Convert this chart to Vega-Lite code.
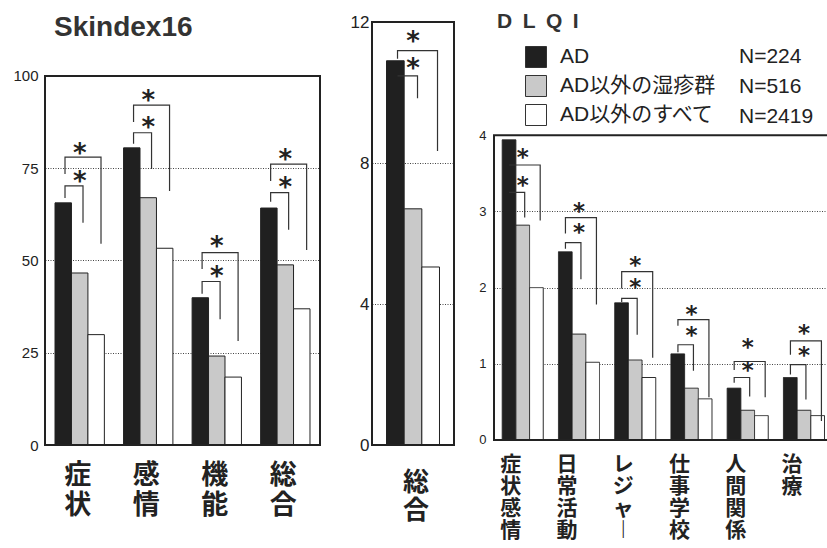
{
  "$schema": "https://vega.github.io/schema/vega-lite/v6.json",
  "padding": {"left": 12, "top": 11, "right": 0, "bottom": 0},
  "background": "white",
  "spacing": 23,
  "config": {
    "font": "Liberation Sans",
    "view": {"stroke": null},
    "axis": {"domain": false, "ticks": false, "labelColor": "#222", "gridColor": "#444", "gridDash": [1, 1.5], "gridWidth": 1, "title": null}
  },
  "datasets": {
    "bars": [
      {"p": "S", "cat": "症状", "g": "AD", "n": "N=224", "v": 65.6},
      {"p": "S", "cat": "症状", "g": "AD以外の湿疹群", "n": "N=516", "v": 46.6},
      {"p": "S", "cat": "症状", "g": "AD以外のすべて", "n": "N=2419", "v": 29.9},
      {"p": "S", "cat": "感情", "g": "AD", "n": "N=224", "v": 80.5},
      {"p": "S", "cat": "感情", "g": "AD以外の湿疹群", "n": "N=516", "v": 67.0},
      {"p": "S", "cat": "感情", "g": "AD以外のすべて", "n": "N=2419", "v": 53.3},
      {"p": "S", "cat": "機能", "g": "AD", "n": "N=224", "v": 39.9},
      {"p": "S", "cat": "機能", "g": "AD以外の湿疹群", "n": "N=516", "v": 24.1},
      {"p": "S", "cat": "機能", "g": "AD以外のすべて", "n": "N=2419", "v": 18.4},
      {"p": "S", "cat": "総合", "g": "AD", "n": "N=224", "v": 64.2},
      {"p": "S", "cat": "総合", "g": "AD以外の湿疹群", "n": "N=516", "v": 48.8},
      {"p": "S", "cat": "総合", "g": "AD以外のすべて", "n": "N=2419", "v": 36.9},
      {"p": "T", "cat": "総合", "g": "AD", "n": "N=224", "v": 10.9},
      {"p": "T", "cat": "総合", "g": "AD以外の湿疹群", "n": "N=516", "v": 6.7},
      {"p": "T", "cat": "総合", "g": "AD以外のすべて", "n": "N=2419", "v": 5.05},
      {"p": "D", "cat": "症状感情", "g": "AD", "n": "N=224", "v": 3.94},
      {"p": "D", "cat": "症状感情", "g": "AD以外の湿疹群", "n": "N=516", "v": 2.82},
      {"p": "D", "cat": "症状感情", "g": "AD以外のすべて", "n": "N=2419", "v": 2.0},
      {"p": "D", "cat": "日常活動", "g": "AD", "n": "N=224", "v": 2.47},
      {"p": "D", "cat": "日常活動", "g": "AD以外の湿疹群", "n": "N=516", "v": 1.39},
      {"p": "D", "cat": "日常活動", "g": "AD以外のすべて", "n": "N=2419", "v": 1.02},
      {"p": "D", "cat": "レジャー", "g": "AD", "n": "N=224", "v": 1.8},
      {"p": "D", "cat": "レジャー", "g": "AD以外の湿疹群", "n": "N=516", "v": 1.05},
      {"p": "D", "cat": "レジャー", "g": "AD以外のすべて", "n": "N=2419", "v": 0.82},
      {"p": "D", "cat": "仕事学校", "g": "AD", "n": "N=224", "v": 1.13},
      {"p": "D", "cat": "仕事学校", "g": "AD以外の湿疹群", "n": "N=516", "v": 0.68},
      {"p": "D", "cat": "仕事学校", "g": "AD以外のすべて", "n": "N=2419", "v": 0.54},
      {"p": "D", "cat": "人間関係", "g": "AD", "n": "N=224", "v": 0.68},
      {"p": "D", "cat": "人間関係", "g": "AD以外の湿疹群", "n": "N=516", "v": 0.39},
      {"p": "D", "cat": "人間関係", "g": "AD以外のすべて", "n": "N=2419", "v": 0.32},
      {"p": "D", "cat": "治療", "g": "AD", "n": "N=224", "v": 0.82},
      {"p": "D", "cat": "治療", "g": "AD以外の湿疹群", "n": "N=516", "v": 0.39},
      {"p": "D", "cat": "治療", "g": "AD以外のすべて", "n": "N=2419", "v": 0.32}
    ],
    "frames": [
      {"p": "S", "lo": 0, "hi": 100},
      {"p": "T", "lo": 0, "hi": 12},
      {"p": "D", "lo": 0, "hi": 4}
    ],
    "brackets": [
      {"p": "S", "cat": "症状", "k": "i", "s": 1, "pos": "AD", "v": 66.9},
      {"p": "S", "cat": "症状", "k": "i", "s": 2, "pos": "AD", "v": 70.2},
      {"p": "S", "cat": "症状", "k": "i", "s": 3, "pos": "AD以外の湿疹群", "v": 70.2},
      {"p": "S", "cat": "症状", "k": "i", "s": 4, "pos": "AD以外の湿疹群", "v": 60.2},
      {"p": "S", "cat": "症状", "k": "o", "s": 1, "pos": "AD", "v": 73.4},
      {"p": "S", "cat": "症状", "k": "o", "s": 2, "pos": "AD", "v": 78.0},
      {"p": "S", "cat": "症状", "k": "o", "s": 3, "pos": "AD以外のすべて", "v": 78.0},
      {"p": "S", "cat": "症状", "k": "o", "s": 4, "pos": "AD以外のすべて", "v": 54.5},
      {"p": "S", "cat": "感情", "k": "i", "s": 1, "pos": "AD", "v": 81.6},
      {"p": "S", "cat": "感情", "k": "i", "s": 2, "pos": "AD", "v": 84.6},
      {"p": "S", "cat": "感情", "k": "i", "s": 3, "pos": "AD以外の湿疹群", "v": 84.6},
      {"p": "S", "cat": "感情", "k": "i", "s": 4, "pos": "AD以外の湿疹群", "v": 74.8},
      {"p": "S", "cat": "感情", "k": "o", "s": 1, "pos": "AD", "v": 87.5},
      {"p": "S", "cat": "感情", "k": "o", "s": 2, "pos": "AD", "v": 92.1},
      {"p": "S", "cat": "感情", "k": "o", "s": 3, "pos": "AD以外のすべて", "v": 92.1},
      {"p": "S", "cat": "感情", "k": "o", "s": 4, "pos": "AD以外のすべて", "v": 68.8},
      {"p": "S", "cat": "機能", "k": "i", "s": 1, "pos": "AD", "v": 41.0},
      {"p": "S", "cat": "機能", "k": "i", "s": 2, "pos": "AD", "v": 44.3},
      {"p": "S", "cat": "機能", "k": "i", "s": 3, "pos": "AD以外の湿疹群", "v": 44.3},
      {"p": "S", "cat": "機能", "k": "i", "s": 4, "pos": "AD以外の湿疹群", "v": 34.1},
      {"p": "S", "cat": "機能", "k": "o", "s": 1, "pos": "AD", "v": 47.7},
      {"p": "S", "cat": "機能", "k": "o", "s": 2, "pos": "AD", "v": 52.1},
      {"p": "S", "cat": "機能", "k": "o", "s": 3, "pos": "AD以外のすべて", "v": 52.1},
      {"p": "S", "cat": "機能", "k": "o", "s": 4, "pos": "AD以外のすべて", "v": 28.2},
      {"p": "S", "cat": "総合", "k": "i", "s": 1, "pos": "AD", "v": 65.9},
      {"p": "S", "cat": "総合", "k": "i", "s": 2, "pos": "AD", "v": 68.4},
      {"p": "S", "cat": "総合", "k": "i", "s": 3, "pos": "AD以外の湿疹群", "v": 68.4},
      {"p": "S", "cat": "総合", "k": "i", "s": 4, "pos": "AD以外の湿疹群", "v": 58.3},
      {"p": "S", "cat": "総合", "k": "o", "s": 1, "pos": "AD", "v": 71.5},
      {"p": "S", "cat": "総合", "k": "o", "s": 2, "pos": "AD", "v": 76.1},
      {"p": "S", "cat": "総合", "k": "o", "s": 3, "pos": "AD以外のすべて", "v": 76.1},
      {"p": "S", "cat": "総合", "k": "o", "s": 4, "pos": "AD以外のすべて", "v": 52.8},
      {"p": "T", "cat": "総合", "k": "i", "s": 1, "pos": "AD", "v": 10.47},
      {"p": "T", "cat": "総合", "k": "i", "s": 2, "pos": "AD", "v": 10.47},
      {"p": "T", "cat": "総合", "k": "i", "s": 3, "pos": "AD以外の湿疹群", "v": 10.47},
      {"p": "T", "cat": "総合", "k": "i", "s": 4, "pos": "AD以外の湿疹群", "v": 9.84},
      {"p": "T", "cat": "総合", "k": "o", "s": 1, "pos": "AD", "v": 10.96},
      {"p": "T", "cat": "総合", "k": "o", "s": 2, "pos": "AD", "v": 11.19},
      {"p": "T", "cat": "総合", "k": "o", "s": 3, "pos": "AD以外のすべて", "v": 11.19},
      {"p": "T", "cat": "総合", "k": "o", "s": 4, "pos": "AD以外のすべて", "v": 8.34},
      {"p": "D", "cat": "症状感情", "k": "i", "s": 1, "pos": "AD", "v": 3.25},
      {"p": "D", "cat": "症状感情", "k": "i", "s": 2, "pos": "AD", "v": 3.25},
      {"p": "D", "cat": "症状感情", "k": "i", "s": 3, "pos": "AD以外の湿疹群", "v": 3.25},
      {"p": "D", "cat": "症状感情", "k": "i", "s": 4, "pos": "AD以外の湿疹群", "v": 2.92},
      {"p": "D", "cat": "症状感情", "k": "o", "s": 1, "pos": "AD", "v": 3.61},
      {"p": "D", "cat": "症状感情", "k": "o", "s": 2, "pos": "AD", "v": 3.61},
      {"p": "D", "cat": "症状感情", "k": "o", "s": 3, "pos": "AD以外のすべて", "v": 3.61},
      {"p": "D", "cat": "症状感情", "k": "o", "s": 4, "pos": "AD以外のすべて", "v": 2.88},
      {"p": "D", "cat": "日常活動", "k": "i", "s": 1, "pos": "AD", "v": 2.51},
      {"p": "D", "cat": "日常活動", "k": "i", "s": 2, "pos": "AD", "v": 2.59},
      {"p": "D", "cat": "日常活動", "k": "i", "s": 3, "pos": "AD以外の湿疹群", "v": 2.59},
      {"p": "D", "cat": "日常活動", "k": "i", "s": 4, "pos": "AD以外の湿疹群", "v": 2.11},
      {"p": "D", "cat": "日常活動", "k": "o", "s": 1, "pos": "AD", "v": 2.71},
      {"p": "D", "cat": "日常活動", "k": "o", "s": 2, "pos": "AD", "v": 2.92},
      {"p": "D", "cat": "日常活動", "k": "o", "s": 3, "pos": "AD以外のすべて", "v": 2.92},
      {"p": "D", "cat": "日常活動", "k": "o", "s": 4, "pos": "AD以外のすべて", "v": 1.78},
      {"p": "D", "cat": "レジャー", "k": "i", "s": 1, "pos": "AD", "v": 1.81},
      {"p": "D", "cat": "レジャー", "k": "i", "s": 2, "pos": "AD", "v": 1.86},
      {"p": "D", "cat": "レジャー", "k": "i", "s": 3, "pos": "AD以外の湿疹群", "v": 1.86},
      {"p": "D", "cat": "レジャー", "k": "i", "s": 4, "pos": "AD以外の湿疹群", "v": 1.38},
      {"p": "D", "cat": "レジャー", "k": "o", "s": 1, "pos": "AD", "v": 1.99},
      {"p": "D", "cat": "レジャー", "k": "o", "s": 2, "pos": "AD", "v": 2.21},
      {"p": "D", "cat": "レジャー", "k": "o", "s": 3, "pos": "AD以外のすべて", "v": 2.21},
      {"p": "D", "cat": "レジャー", "k": "o", "s": 4, "pos": "AD以外のすべて", "v": 1.08},
      {"p": "D", "cat": "仕事学校", "k": "i", "s": 1, "pos": "AD", "v": 1.15},
      {"p": "D", "cat": "仕事学校", "k": "i", "s": 2, "pos": "AD", "v": 1.25},
      {"p": "D", "cat": "仕事学校", "k": "i", "s": 3, "pos": "AD以外の湿疹群", "v": 1.25},
      {"p": "D", "cat": "仕事学校", "k": "i", "s": 4, "pos": "AD以外の湿疹群", "v": 0.91},
      {"p": "D", "cat": "仕事学校", "k": "o", "s": 1, "pos": "AD", "v": 1.5},
      {"p": "D", "cat": "仕事学校", "k": "o", "s": 2, "pos": "AD", "v": 1.58},
      {"p": "D", "cat": "仕事学校", "k": "o", "s": 3, "pos": "AD以外のすべて", "v": 1.58},
      {"p": "D", "cat": "仕事学校", "k": "o", "s": 4, "pos": "AD以外のすべて", "v": 0.56},
      {"p": "D", "cat": "人間関係", "k": "i", "s": 1, "pos": "AD", "v": 0.75},
      {"p": "D", "cat": "人間関係", "k": "i", "s": 2, "pos": "AD", "v": 0.82},
      {"p": "D", "cat": "人間関係", "k": "i", "s": 3, "pos": "AD以外の湿疹群", "v": 0.82},
      {"p": "D", "cat": "人間関係", "k": "i", "s": 4, "pos": "AD以外の湿疹群", "v": 0.57},
      {"p": "D", "cat": "人間関係", "k": "o", "s": 1, "pos": "AD", "v": 0.92},
      {"p": "D", "cat": "人間関係", "k": "o", "s": 2, "pos": "AD", "v": 1.03},
      {"p": "D", "cat": "人間関係", "k": "o", "s": 3, "pos": "AD以外のすべて", "v": 1.03},
      {"p": "D", "cat": "人間関係", "k": "o", "s": 4, "pos": "AD以外のすべて", "v": 0.56},
      {"p": "D", "cat": "治療", "k": "i", "s": 1, "pos": "AD", "v": 0.86},
      {"p": "D", "cat": "治療", "k": "i", "s": 2, "pos": "AD", "v": 0.99},
      {"p": "D", "cat": "治療", "k": "i", "s": 3, "pos": "AD以外の湿疹群", "v": 0.99},
      {"p": "D", "cat": "治療", "k": "i", "s": 4, "pos": "AD以外の湿疹群", "v": 0.53},
      {"p": "D", "cat": "治療", "k": "o", "s": 1, "pos": "AD", "v": 1.12},
      {"p": "D", "cat": "治療", "k": "o", "s": 2, "pos": "AD", "v": 1.3},
      {"p": "D", "cat": "治療", "k": "o", "s": 3, "pos": "AD以外のすべて", "v": 1.3},
      {"p": "D", "cat": "治療", "k": "o", "s": 4, "pos": "AD以外のすべて", "v": 0.25}
    ],
    "stars": [
      {"p": "S", "cat": "症状", "v": 72.1},
      {"p": "S", "cat": "症状", "v": 79.7},
      {"p": "S", "cat": "感情", "v": 86.7},
      {"p": "S", "cat": "感情", "v": 94.0},
      {"p": "S", "cat": "機能", "v": 46.3},
      {"p": "S", "cat": "機能", "v": 54.5},
      {"p": "S", "cat": "総合", "v": 70.5},
      {"p": "S", "cat": "総合", "v": 78.0},
      {"p": "T", "cat": "総合", "v": 10.74},
      {"p": "T", "cat": "総合", "v": 11.51},
      {"p": "D", "cat": "症状感情", "v": 3.38},
      {"p": "D", "cat": "症状感情", "v": 3.74},
      {"p": "D", "cat": "日常活動", "v": 2.75},
      {"p": "D", "cat": "日常活動", "v": 3.03},
      {"p": "D", "cat": "レジャー", "v": 2.04},
      {"p": "D", "cat": "レジャー", "v": 2.32},
      {"p": "D", "cat": "仕事学校", "v": 1.40},
      {"p": "D", "cat": "仕事学校", "v": 1.68},
      {"p": "D", "cat": "人間関係", "v": 0.94},
      {"p": "D", "cat": "人間関係", "v": 1.25},
      {"p": "D", "cat": "治療", "v": 1.14},
      {"p": "D", "cat": "治療", "v": 1.43}
    ]
  },
  "resolve": {"scale": {"fill": "independent", "strokeDash": "independent"}},
  "hconcat": [
    {
      "width": 275,
      "height": 423,
      "title": {"text": "Skindex16", "fontSize": 28, "fontWeight": "bold", "anchor": "start", "frame": "group", "dx": 9, "offset": -42, "baseline": "alphabetic", "color": "#333"},
      "layer": [
        {
          "data": {"name": "bars"},
          "transform": [{"filter": "datum.p == 'S'"}],
          "mark": {"type": "bar", "stroke": "#222", "strokeWidth": 1},
          "encoding": {
            "x": {"field": "cat", "type": "nominal", "scale": {"domain": ["症状", "感情", "機能", "総合"], "paddingInner": 0.28, "paddingOuter": 0.146},
              "axis": {"labelAngle": 0, "labelExpr": "split(datum.label, '')", "labelFont": "Noto Sans CJK JP", "labelFontWeight": "bold", "labelFontSize": 27, "labelLineHeight": 30, "labelPadding": 17, "labelBaseline": "top", "labelOffset": -2, "labelOverlap": false}},
            "xOffset": {"field": "g", "type": "nominal", "scale": {"domain": ["AD", "AD以外の湿疹群", "AD以外のすべて"], "paddingInner": 0, "paddingOuter": 0}},
            "y": {"field": "v", "type": "quantitative", "scale": {"domain": [0, 114.6], "nice": false},
              "axis": {"values": [0, 25, 50, 75, 100], "format": "d", "labelFontSize": 15, "labelPadding": 7, "minExtent": 32, "maxExtent": 32, "grid": true}},
            "fill": {"field": "g", "type": "nominal", "scale": {"domain": ["AD", "AD以外の湿疹群", "AD以外のすべて"], "range": ["#202020", "#c9c9c9", "#ffffff"]}, "legend": null}
          }
        },
        {
          "data": {"name": "frames"},
          "transform": [{"filter": "datum.p == 'S'"}],
          "mark": {"type": "rect", "filled": false, "stroke": "#222", "strokeWidth": 2},
          "encoding": {
            "y": {"field": "lo", "type": "quantitative", "scale": {"domain": [0, 114.6], "nice": false}},
            "y2": {"field": "hi"}
          }
        },
        {
          "data": {"name": "brackets"},
          "transform": [{"filter": "datum.p == 'S'"}],
          "mark": {"type": "line", "color": "#333", "strokeWidth": 1.2},
          "encoding": {
            "x": {"field": "cat", "type": "nominal", "scale": {"domain": ["症状", "感情", "機能", "総合"], "paddingInner": 0.28, "paddingOuter": 0.146}},
            "xOffset": {"field": "pos", "type": "nominal", "scale": {"type": "point", "domain": ["AD", "AD以外の湿疹群", "AD以外のすべて"], "range": [10, 46], "padding": 0}},
            "y": {"field": "v", "type": "quantitative", "scale": {"domain": [0, 114.6], "nice": false}},
            "detail": [{"field": "cat"}, {"field": "k"}],
            "order": {"field": "s", "type": "quantitative"}
          }
        },
        {
          "data": {"name": "stars"},
          "transform": [{"filter": "datum.p == 'S'"}],
          "mark": {"type": "text", "text": "*", "font": "DejaVu Sans", "fontWeight": "bold", "fontSize": 26, "baseline": "alphabetic", "dy": 11, "color": "#222"},
          "encoding": {
            "x": {"field": "cat", "type": "nominal", "scale": {"domain": ["症状", "感情", "機能", "総合"], "paddingInner": 0.28, "paddingOuter": 0.146}},
            "y": {"field": "v", "type": "quantitative", "scale": {"domain": [0, 114.6], "nice": false}}
          }
        }
      ],
      "resolve": {"scale": {"xOffset": "independent"}}
    },
    {
      "width": 82,
      "height": 423,
      "layer": [
        {
          "data": {"name": "bars"},
          "transform": [{"filter": "datum.p == 'T'"}],
          "mark": {"type": "bar", "stroke": "#222", "strokeWidth": 1},
          "encoding": {
            "x": {"field": "cat", "type": "nominal", "scale": {"domain": ["総合"], "paddingInner": 0, "paddingOuter": 0.274},
              "axis": {"labelAngle": 0, "labelExpr": "split(datum.label, '')", "labelFont": "Noto Sans CJK JP", "labelFontWeight": "bold", "labelFontSize": 26, "labelLineHeight": 28, "labelPadding": 24, "labelBaseline": "top", "labelOffset": 3, "labelOverlap": false}},
            "xOffset": {"field": "g", "type": "nominal", "scale": {"domain": ["AD", "AD以外の湿疹群", "AD以外のすべて"], "paddingInner": 0, "paddingOuter": 0}},
            "y": {"field": "v", "type": "quantitative", "scale": {"domain": [0, 12], "nice": false},
              "axis": {"values": [0, 4, 8, 12], "format": "d", "labelFontSize": 17, "labelPadding": 3, "minExtent": 28, "maxExtent": 28, "grid": true}},
            "fill": {"field": "g", "type": "nominal", "scale": {"domain": ["AD", "AD以外の湿疹群", "AD以外のすべて"], "range": ["#202020", "#c9c9c9", "#ffffff"]}, "legend": null}
          }
        },
        {
          "data": {"name": "frames"},
          "transform": [{"filter": "datum.p == 'T'"}],
          "mark": {"type": "rect", "filled": false, "stroke": "#222", "strokeWidth": 2},
          "encoding": {
            "y": {"field": "lo", "type": "quantitative", "scale": {"domain": [0, 12], "nice": false}},
            "y2": {"field": "hi"}
          }
        },
        {
          "data": {"name": "brackets"},
          "transform": [{"filter": "datum.p == 'T'"}],
          "mark": {"type": "line", "color": "#333", "strokeWidth": 1.2},
          "encoding": {
            "x": {"field": "cat", "type": "nominal", "scale": {"domain": ["総合"], "paddingInner": 0, "paddingOuter": 0.274}},
            "xOffset": {"field": "pos", "type": "nominal", "scale": {"type": "point", "domain": ["AD", "AD以外の湿疹群", "AD以外のすべて"], "range": [11, 51], "padding": 0}},
            "y": {"field": "v", "type": "quantitative", "scale": {"domain": [0, 12], "nice": false}},
            "detail": [{"field": "cat"}, {"field": "k"}],
            "order": {"field": "s", "type": "quantitative"}
          }
        },
        {
          "data": {"name": "stars"},
          "transform": [{"filter": "datum.p == 'T'"}],
          "mark": {"type": "text", "text": "*", "font": "DejaVu Sans", "fontWeight": "bold", "fontSize": 26, "baseline": "alphabetic", "dy": 11, "color": "#222"},
          "encoding": {
            "x": {"field": "cat", "type": "nominal", "scale": {"domain": ["総合"], "paddingInner": 0, "paddingOuter": 0.274}},
            "y": {"field": "v", "type": "quantitative", "scale": {"domain": [0, 12], "nice": false}}
          }
        }
      ],
      "resolve": {"scale": {"xOffset": "independent"}}
    },
    {
      "width": 334,
      "height": 423,
      "title": {"text": "D\u2002L\u2002Q\u2002I", "fontSize": 21, "fontWeight": "bold", "anchor": "start", "frame": "group", "dx": 3, "offset": -27, "baseline": "alphabetic", "color": "#333"},
      "layer": [
        {
          "data": {"name": "bars"},
          "transform": [{"filter": "datum.p == 'D'"}],
          "mark": {"type": "bar", "stroke": "#222", "strokeWidth": 1},
          "encoding": {
            "x": {"field": "cat", "type": "nominal", "scale": {"domain": ["症状感情", "日常活動", "レジャー", "仕事学校", "人間関係", "治療"], "paddingInner": 0.27, "paddingOuter": 0.104, "align": 0.7},
              "axis": {"labelAngle": 0, "labelExpr": "split(replace(datum.label, 'ー', '︱'), '')", "labelFont": "Noto Sans CJK JP", "labelFontWeight": "bold", "labelFontSize": 21, "labelLineHeight": 22.3, "labelPadding": 8, "labelBaseline": "top", "labelOffset": -12, "labelOverlap": false}},
            "xOffset": {"field": "g", "type": "nominal", "scale": {"domain": ["AD", "AD以外の湿疹群", "AD以外のすべて"], "paddingInner": 0, "paddingOuter": 0}},
            "y": {"field": "v", "type": "quantitative", "scale": {"domain": [-0.066, 5.487], "nice": false, "zero": false},
              "axis": {"values": [0, 1, 2, 3, 4], "format": "d", "labelFontSize": 13, "labelPadding": 8, "minExtent": 15, "maxExtent": 15, "grid": true}},
            "fill": {"field": "g", "type": "nominal", "scale": {"domain": ["AD", "AD以外の湿疹群", "AD以外のすべて"], "range": ["#202020", "#c9c9c9", "#ffffff"]},
              "legend": {"orient": "none", "legendX": 31, "legendY": 24, "title": null, "symbolType": "square", "symbolSize": 441, "symbolStrokeColor": "#333", "symbolStrokeWidth": 1, "labelFont": "Liberation Sans, Noto Sans CJK JP", "labelFontSize": 21, "labelColor": "#222", "labelOffset": 13, "rowPadding": 3, "labelLimit": 300, "padding": 0}},
            "strokeDash": {"field": "n", "type": "nominal", "scale": {"domain": ["N=224", "N=516", "N=2419"], "range": [[1, 0], [1, 0], [1, 0]]},
              "legend": {"orient": "none", "legendX": 224, "legendY": 24, "title": null, "symbolType": "square", "symbolSize": 441, "symbolOpacity": 0, "symbolStrokeWidth": 0, "labelFont": "Liberation Sans", "labelFontSize": 21, "labelColor": "#222", "labelOffset": 0, "rowPadding": 8, "padding": 0}}
          }
        },
        {
          "data": {"name": "frames"},
          "transform": [{"filter": "datum.p == 'D'"}],
          "mark": {"type": "rect", "filled": false, "stroke": "#222", "strokeWidth": 2},
          "encoding": {
            "y": {"field": "lo", "type": "quantitative", "scale": {"domain": [-0.066, 5.487], "nice": false, "zero": false}},
            "y2": {"field": "hi"}
          }
        },
        {
          "data": {"name": "brackets"},
          "transform": [{"filter": "datum.p == 'D'"}],
          "mark": {"type": "line", "color": "#333", "strokeWidth": 1.2},
          "encoding": {
            "x": {"field": "cat", "type": "nominal", "scale": {"domain": ["症状感情", "日常活動", "レジャー", "仕事学校", "人間関係", "治療"], "paddingInner": 0.27, "paddingOuter": 0.104, "align": 0.7}},
            "xOffset": {"field": "pos", "type": "nominal", "scale": {"type": "point", "domain": ["AD", "AD以外の湿疹群", "AD以外のすべて"], "range": [7, 38], "padding": 0}},
            "y": {"field": "v", "type": "quantitative", "scale": {"domain": [-0.066, 5.487], "nice": false, "zero": false}},
            "detail": [{"field": "cat"}, {"field": "k"}],
            "order": {"field": "s", "type": "quantitative"}
          }
        },
        {
          "data": {"name": "stars"},
          "transform": [{"filter": "datum.p == 'D'"}],
          "mark": {"type": "text", "text": "*", "font": "DejaVu Sans", "fontWeight": "bold", "fontSize": 23, "baseline": "alphabetic", "dy": 10, "color": "#222"},
          "encoding": {
            "x": {"field": "cat", "type": "nominal", "scale": {"domain": ["症状感情", "日常活動", "レジャー", "仕事学校", "人間関係", "治療"], "paddingInner": 0.27, "paddingOuter": 0.104, "align": 0.7}},
            "y": {"field": "v", "type": "quantitative", "scale": {"domain": [-0.066, 5.487], "nice": false, "zero": false}}
          }
        }
      ],
      "resolve": {"scale": {"xOffset": "independent"}}
    }
  ]
}
